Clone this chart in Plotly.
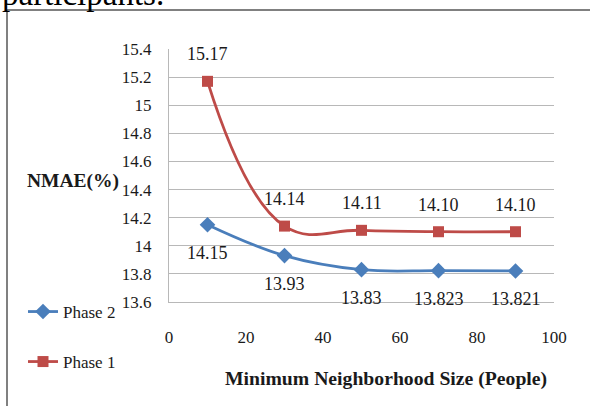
import plotly.graph_objects as go

# Minimum neighborhood size (people)
sizes = [10, 30, 50, 70, 90]

# NMAE (%) for each phase
phase1_nmae = [15.17, 14.14, 14.11, 14.10, 14.10]
phase2_nmae = [14.15, 13.93, 13.83, 13.823, 13.821]

# decimals shown in each point label
phase1_decimals = [2, 2, 2, 2, 2]
phase2_decimals = [2, 2, 2, 3, 3]

y_ticks = [13.6, 13.8, 14.0, 14.2, 14.4, 14.6, 14.8, 15.0, 15.2, 15.4]
y_tick_text = ["13.6", "13.8", "14", "14.2", "14.4", "14.6", "14.8", "15", "15.2", "15.4"]
x_ticks = [0, 20, 40, 60, 80, 100]

BLUE = "#4a7ebb"
RED = "#be4b48"
SERIF = "Liberation Serif"
INK = "#1a1a1a"
FS_LABEL = 18
FS_TICK = 17

W, H = 590, 406
L, R, T, B = 169, 36, 49, 104
PW, PH = W - L - R, H - T - B


def px_x(px):
    return (px - L) / PW


def px_y(py):
    return (H - B - py) / PH


fig = go.Figure()

fig.add_trace(go.Scatter(
    x=sizes, y=phase2_nmae, name="Phase 2", mode="lines+markers",
    line=dict(color=BLUE, width=2.8, shape="spline", smoothing=1.1),
    marker=dict(symbol="diamond", size=12, color=BLUE),
    legend="legend",
))
fig.add_trace(go.Scatter(
    x=sizes, y=phase1_nmae, name="Phase 1", mode="lines+markers",
    line=dict(color=RED, width=2.8, shape="spline", smoothing=1.2),
    marker=dict(symbol="square", size=11, color=RED),
    legend="legend2",
))

annotations = []
for x, v, d in zip(sizes, phase1_nmae, phase1_decimals):
    annotations.append(dict(x=x, y=v, xref="x", yref="y", text=f"{v:.{d}f}",
                            showarrow=False, yshift=27,
                            font=dict(family=SERIF, size=FS_LABEL, color=INK)))
for x, v, d in zip(sizes, phase2_nmae, phase2_decimals):
    annotations.append(dict(x=x, y=v, xref="x", yref="y", text=f"{v:.{d}f}",
                            showarrow=False, yshift=-28,
                            font=dict(family=SERIF, size=FS_LABEL, color=INK)))

# axis titles
annotations.append(dict(x=px_x(73), y=px_y(181), xref="paper", yref="paper",
                        text="<b>NMAE(%)</b>", showarrow=False,
                        xanchor="center", yanchor="middle",
                        font=dict(family=SERIF, size=19.5, color=INK)))
annotations.append(dict(x=px_x(386), y=px_y(378), xref="paper", yref="paper",
                        text="<b>Minimum Neighborhood Size (People)</b>", showarrow=False,
                        xanchor="center", yanchor="middle",
                        font=dict(family=SERIF, size=19.7, color=INK)))
# running text above the frame
annotations.append(dict(x=px_x(0), y=px_y(14), xref="paper", yref="paper",
                        text="participants.", showarrow=False,
                        xanchor="left", yanchor="bottom",
                        font=dict(family=SERIF, size=33, color="#000000")))

shapes = [
    dict(type="line", xref="paper", yref="paper",
         x0=px_x(7), x1=px_x(W + 5), y0=px_y(10), y1=px_y(10),
         line=dict(color="#808080", width=2)),
    dict(type="line", xref="paper", yref="paper",
         x0=px_x(7), x1=px_x(7), y0=px_y(10), y1=px_y(H + 5),
         line=dict(color="#808080", width=2)),
]

legend_font = dict(family=SERIF, size=FS_TICK, color=INK)
fig.update_layout(
    width=W, height=H,
    margin=dict(l=L, r=R, t=T, b=B, pad=0),
    paper_bgcolor="white", plot_bgcolor="white",
    font=dict(family=SERIF, color=INK),
    showlegend=True,
    legend=dict(x=px_x(23), y=px_y(312), xanchor="left", yanchor="middle",
                font=legend_font, bgcolor="rgba(0,0,0,0)", itemwidth=30),
    legend2=dict(x=px_x(23), y=px_y(362), xanchor="left", yanchor="middle",
                 font=legend_font, bgcolor="rgba(0,0,0,0)", itemwidth=30),
    annotations=annotations,
    shapes=shapes,
    xaxis=dict(range=[0, 100], tickvals=x_ticks, showgrid=False, zeroline=False,
               showline=True, linecolor="#b8b8b8", linewidth=1,
               ticks="", ticklabelstandoff=20,
               tickfont=dict(family=SERIF, size=FS_TICK, color=INK)),
    yaxis=dict(range=[13.6, 15.4], tickvals=y_ticks, ticktext=y_tick_text,
               showgrid=True, gridcolor="#b8b8b8", gridwidth=1, zeroline=False,
               showline=True, linecolor="#b8b8b8", linewidth=1,
               ticks="", ticklabelstandoff=13,
               tickfont=dict(family=SERIF, size=FS_TICK, color=INK)),
)

fig.write_html("out.html")
